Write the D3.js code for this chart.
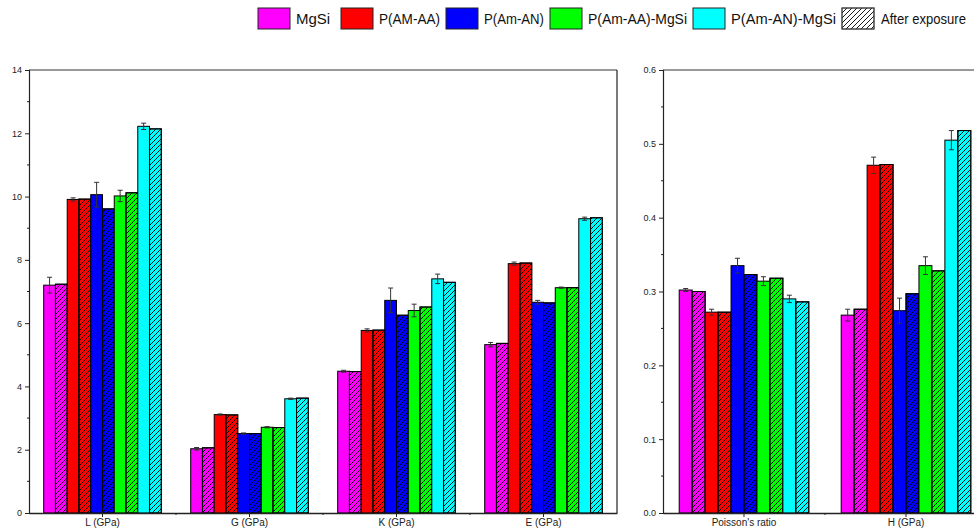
<!DOCTYPE html>
<html><head><meta charset="utf-8">
<script src="https://cdn.jsdelivr.net/npm/d3@7"></script>
<style>body{margin:0;background:#fff}svg{display:block;font-family:"Liberation Sans",Arial,sans-serif}</style>
</head><body><svg id="c" width="974" height="530"></svg>
<script>
const seriesNames = ["MgSi","P(AM-AA)","P(Am-AN)","P(Am-AA)-MgSi","P(Am-AN)-MgSi"];
const seriesColors = ["#FF00FF","#FF0000","#0000FF","#00FF00","#00FFFF"];
const leftCats = ["L (GPa)","G (GPa)","K (GPa)","E (GPa)"];
const rightCats = ["Poisson's ratio","H (GPa)"];
// before exposure values [series][category]
const leftBefore = [[7.20,2.03,4.48,5.32],[9.91,3.11,5.77,7.88],[10.06,2.51,6.72,6.66],[10.02,2.71,6.40,7.12],[12.22,3.61,7.40,9.30]];
const leftErr    = [[0.25,0.04,0.03,0.07],[0.05,0.02,0.05,0.05],[0.39,0.02,0.39,0.06],[0.18,0.02,0.20,0.02],[0.10,0.02,0.15,0.05]];
const leftAfter  = [[7.23,2.06,4.47,5.36],[9.92,3.10,5.78,7.90],[9.61,2.51,6.25,6.64],[10.12,2.70,6.51,7.12],[12.14,3.63,7.29,9.33]];
const rightBefore = [[0.302,0.268],[0.272,0.471],[0.335,0.274],[0.314,0.335],[0.290,0.505]];
const rightErr    = [[0.002,0.008],[0.004,0.011],[0.010,0.017],[0.006,0.012],[0.005,0.013]];
const rightAfter  = [[0.300,0.276],[0.272,0.472],[0.323,0.297],[0.318,0.328],[0.286,0.518]];
const leftTicks = [0,2,4,6,8,10,12,14];
const rightTicks = [0,0.1,0.2,0.3,0.4,0.5,0.6];

const svg = d3.select("#c");
const defs = svg.append("defs");
const pat = defs.append("pattern").attr("id","hatch").attr("patternUnits","userSpaceOnUse")
  .attr("width",5).attr("height",5);
pat.append("path").attr("d","M-1,6 L6,-1 M-1,1 L1,-1 M4,6 L6,4").attr("stroke","#000").attr("stroke-width",0.9);

function panel(x0,x1,yTop,yBot,cats,before,err,after,domainMax,ticks,fmt,clipRight){
  const x = d3.scaleBand().domain(cats).range([x0,x1]).paddingInner(0.2).paddingOuter(0.1);
  const y = d3.scaleLinear().domain([0,domainMax]).range([yBot,yTop]);
  const keys = d3.range(10);
  const xi = d3.scaleBand().domain(keys).range([0,x.bandwidth()]);
  const g = svg.append("g");
  cats.forEach((c,ci)=>{
    for(let s=0;s<5;s++){
      [0,1].forEach(h=>{
        const v = h? after[s][ci] : before[s][ci];
        const bx = x(c)+xi(s*2+h);
        g.append("rect").attr("x",bx).attr("y",y(v)).attr("width",xi.bandwidth()).attr("height",yBot-y(v))
          .attr("fill",seriesColors[s]).attr("stroke","#000").attr("stroke-width",1);
        if(h){
          g.append("rect").attr("x",bx).attr("y",y(v)).attr("width",xi.bandwidth()).attr("height",yBot-y(v))
            .attr("fill","url(#hatch)").attr("stroke","#000").attr("stroke-width",1);
        }else{
          const e = err[s][ci], cx = bx+xi.bandwidth()/2;
          const eg = g.append("g").attr("stroke","#333").attr("stroke-width",1);
          eg.append("line").attr("x1",cx).attr("x2",cx).attr("y1",y(v+e)).attr("y2",y(v-e));
          eg.append("line").attr("x1",cx-2.5).attr("x2",cx+2.5).attr("y1",y(v+e)).attr("y2",y(v+e));
          eg.append("line").attr("x1",cx-2.5).attr("x2",cx+2.5).attr("y1",y(v-e)).attr("y2",y(v-e));
        }
      });
    }
  });
  const right = Math.min(x1,974);
  g.append("line").attr("x1",x0).attr("x2",right).attr("y1",yTop).attr("y2",yTop).attr("stroke","#777").attr("stroke-width",1.5);
  if(!clipRight) g.append("line").attr("x1",x1).attr("x2",x1).attr("y1",yTop).attr("y2",yBot).attr("stroke","#222").attr("stroke-width",1.2);
  const ya = d3.axisLeft(y).tickValues(ticks).tickSize(4).tickPadding(3).tickFormat(fmt);
  const yg = g.append("g").attr("transform",`translate(${x0},0)`).call(ya);
  yg.select(".domain").attr("stroke","#222").attr("stroke-width",1.2);
  yg.selectAll("text").attr("font-size",9).attr("fill","#222").attr("font-family","Liberation Sans, Arial, sans-serif");
  yg.selectAll("line").attr("stroke","#222");
  const minor = ticks.slice(0,-1).map((t,i)=>(t+ticks[i+1])/2);
  yg.selectAll(".mn").data(minor).enter().append("line").attr("x1",-2).attr("x2",0).attr("y1",d=>y(d)).attr("y2",d=>y(d)).attr("stroke","#222");
  const xa = d3.axisBottom(x).tickSize(4).tickPadding(2).tickSizeOuter(0);
  const xg = g.append("g").attr("transform",`translate(0,${yBot})`).call(xa);
  xg.select(".domain").attr("stroke","#222").attr("stroke-width",1.5);
  xg.selectAll("line").attr("stroke","#222");
  xg.selectAll("text").attr("font-size",10).attr("fill","#222").attr("font-family","Liberation Sans, Arial, sans-serif");
  cats.slice(1).forEach(c=>{
    const bx = x(c)-x.step()*x.paddingInner()/2;
    xg.append("line").attr("x1",bx).attr("x2",bx).attr("y1",0).attr("y2",2).attr("stroke","#222");
  });
}
panel(29,617,70,513,leftCats,leftBefore,leftErr,leftAfter,14,leftTicks,d3.format("d"),false);
panel(663,987,70,513,rightCats,rightBefore,rightErr,rightAfter,0.6,rightTicks,d3.format(".1f"),true);

// legend (layout positions)
const legendItems = seriesNames.map((n,i)=>({name:n,color:seriesColors[i],hatch:false})).concat([{name:"After exposure",color:"#fff",hatch:true}]);
const legendX = [258,341,446,550,693,842];
const lg = svg.append("g").attr("font-size",15).attr("font-family","Liberation Sans, Arial, sans-serif");
legendItems.forEach((d,i)=>{
  const gi = lg.append("g").attr("transform",`translate(${legendX[i]},8)`);
  gi.append("rect").attr("x",0).attr("y",0).attr("width",32).attr("height",21).attr("fill",d.color).attr("stroke",d.hatch?"#444":"#222").attr("stroke-width",1);
  if(d.hatch) gi.append("rect").attr("x",0).attr("y",0).attr("width",32).attr("height",21).attr("fill","url(#hatch)").attr("stroke","#444");
  const tx = d.hatch?39:38;
  const t = gi.append("text").attr("x",tx).attr("y",16).attr("fill","#111").text(d.name);
  const avail = (i<legendX.length-1 ? legendX[i+1]-6 : 966) - (legendX[i]+tx);
  const w = t.node().getComputedTextLength();
  if(w>avail) t.attr("textLength",avail).attr("lengthAdjust","spacingAndGlyphs");
});
</script></body></html>
